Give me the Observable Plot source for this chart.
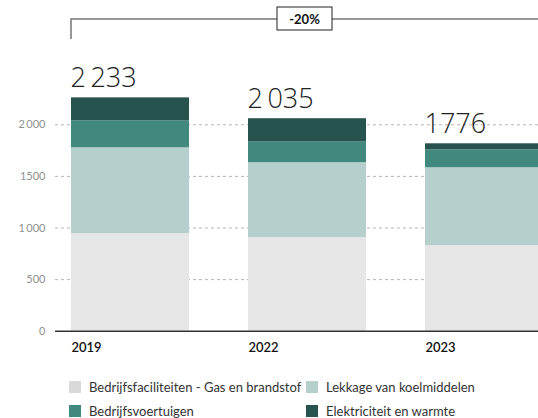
<!DOCTYPE html>
<html><head><meta charset="utf-8">
<script src="https://cdn.jsdelivr.net/npm/d3@7"></script>
<script src="https://cdn.jsdelivr.net/npm/@observablehq/plot@0.6"></script>
<style>
html,body{margin:0;padding:0;overflow:hidden;background:#fff;width:538px;height:418px;font-family:Lato,"Open Sans",sans-serif;}
#chart{position:absolute;left:0;top:0;}
.lg{position:absolute;font-size:13px;color:#333;white-space:nowrap;line-height:14px;}
.sw{position:absolute;width:12px;height:12px;}
</style></head><body>
<div id="chart"></div>
<div id="legend"></div>
<script>
const years = ["2019", "2022", "2023"];
const categories = ["Bedrijfsfaciliteiten - Gas en brandstof", "Lekkage van koelmiddelen", "Bedrijfsvoertuigen", "Elektriciteit en warmte"];
const gasBrandstof = [945, 907, 829];
const koelmiddelen = [832, 726, 755];
const voertuigen = [261, 203, 174];
const elektriciteit = [223, 223, 58];
const totalLabels = ["2\u2009233", "2\u2009035", "1776"];
const yTicks = [0, 500, 1000, 1500, 2000];
const yTickLabels = ["0", "500", "1\u2009000", "1500", "2\u2009000"];
const changeLabel = "-20%";
const colors = ["#e6e6e6", "#b5d0cc", "#41887f", "#27534f"];
const legendColors = ["#d9d9d9", "#b5d0cc", "#41887f", "#27534f"];

const series = [gasBrandstof, koelmiddelen, voertuigen, elektriciteit];
const rows = [];
categories.forEach((c, ci) => years.forEach((y, yi) => rows.push({year: y, cat: c, value: series[ci][yi]})));
const totals = years.map((y, i) => ({year: y, total: series.reduce((s, a) => s + a[i], 0), label: totalLabels[i]}));

const W = 538, H = 360;
const plot = Plot.plot({
  width: W, height: H,
  marginLeft: 55, marginRight: 0, marginTop: 0, marginBottom: 29,
  style: {fontFamily: "Lato, 'Open Sans', sans-serif", background: "#fff", overflow: "visible"},
  x: {domain: years, range: [71, 543], paddingInner: 1/3, paddingOuter: 0, align: 0, axis: null},
  y: {domain: [0, 2000], range: [330.7, 124.3], axis: null},
  color: {domain: categories, range: colors},
  marks: [
    Plot.gridY(yTicks.slice(1), {stroke: "#b5b5b5", strokeOpacity: 1, strokeDasharray: "3,3", strokeWidth: 1}),
    Plot.axisY(yTicks, {tickSize: 0, tickPadding: 10, tickFormat: d => yTickLabels[yTicks.indexOf(d)], fontSize: 11, fill: "#8f8f8f", label: null}),
    Plot.barY(rows, {x: "year", y: "value", fill: "cat", inset: 0}),
    Plot.ruleY([0], {stroke: "#333", strokeWidth: 1.5}),
    Plot.axisX({tickSize: 0, tickPadding: 11, textAnchor: "start", dx: -59, fontSize: 13, fontWeight: 600, fill: "#111", label: null}),
    Plot.text(totals, {x: "year", y: "total", text: "label", textAnchor: "start", lineAnchor: "bottom", dx: -60, dy: -11, fontSize: 27, fontWeight: 300, fontFamily: "'Open Sans', Lato, sans-serif", fill: "#222"})
  ]
});
document.getElementById("chart").appendChild(plot);

// bracket annotation
const xs = plot.scale("x");
const x0 = xs.apply(years[0]);
const svg = d3.select(plot);
const g = svg.append("g");
g.append("path").attr("d", `M${x0},39V19H${W}`).attr("fill", "none").attr("stroke", "#777").attr("stroke-width", 1.5);
const cx = (x0 + W) / 2;
g.append("rect").attr("x", cx - 27.5).attr("y", 7).attr("width", 55).attr("height", 23).attr("fill", "#fff").attr("stroke", "#222").attr("stroke-width", 1);
g.append("text").attr("x", cx).attr("y", 18.5).attr("text-anchor", "middle").attr("dominant-baseline", "central")
  .attr("font-size", 13).attr("font-weight", 700).attr("fill", "#111").text(changeLabel);

// legend
const lg = document.getElementById("legend");
const pos = [[69, 381], [306, 381], [69, 405], [306, 405]];
categories.forEach((c, i) => {
  const sw = document.createElement("div");
  sw.className = "sw";
  sw.style.left = pos[i][0] + "px"; sw.style.top = pos[i][1] + "px"; sw.style.background = legendColors[i];
  lg.appendChild(sw);
  const t = document.createElement("div");
  t.className = "lg";
  t.style.left = (pos[i][0] + 20) + "px"; t.style.top = (pos[i][1] - 1) + "px";
  t.textContent = c;
  lg.appendChild(t);
});
</script>
</body></html>
